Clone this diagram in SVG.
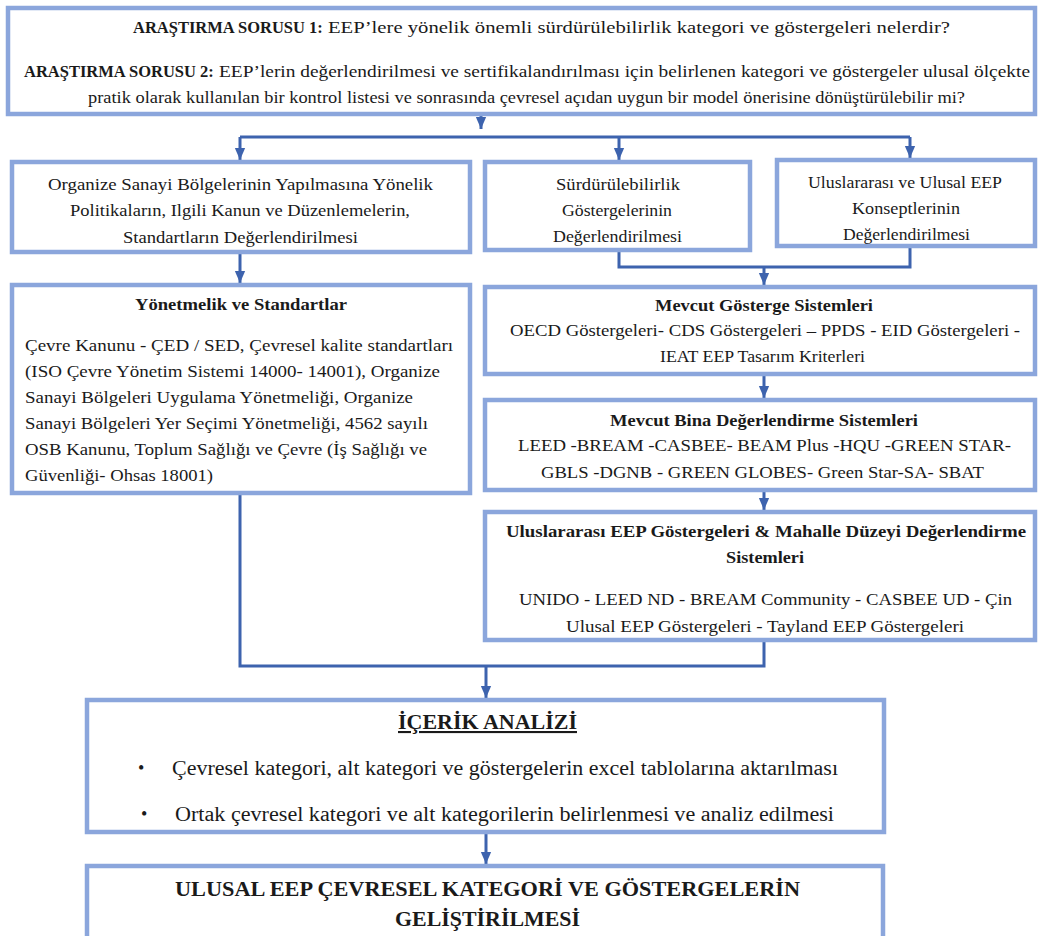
<svg xmlns="http://www.w3.org/2000/svg" width="1040" height="936" viewBox="0 0 1040 936" font-family="'Liberation Serif', 'Times New Roman', serif">
<defs>
<style>
.box{fill:#fff;stroke:#8ba6dc;stroke-width:4.5}
.t{font-family:"Liberation Serif","Times New Roman",serif;font-size:17.5px;fill:#1a1a1a}
.b{font-weight:bold}
.q{font-family:"Liberation Serif","Times New Roman",serif;font-size:16.5px;font-weight:bold;fill:#1a1a1a}
.con{fill:none;stroke:#3d63ae;stroke-width:3}
.cond{font-family:"Liberation Serif","Times New Roman",serif;fill:#1a1a1a}
</style>
<marker id="arr" markerUnits="userSpaceOnUse" markerWidth="12" markerHeight="14" refX="14" refY="6" orient="auto" viewBox="0 0 14 12">
<path d="M0,0 L14,6 L0,12 Z" fill="#3d63ae"/>
</marker>
</defs>
<rect width="1040" height="936" fill="#fff"/>

<g id="connectors">
<path class="con" d="M481,114 V129" marker-end="url(#arr)"/>
<path class="con" d="M240,137 H910"/>
<path class="con" d="M240,137 V160" marker-end="url(#arr)"/>
<path class="con" d="M619,137 V160" marker-end="url(#arr)"/>
<path class="con" d="M910,137 V158" marker-end="url(#arr)"/>
<path class="con" d="M619,250 V267 H910 V246"/>
<path class="con" d="M764,267 V285" marker-end="url(#arr)"/>
<path class="con" d="M240,252 V283" marker-end="url(#arr)"/>
<path class="con" d="M764,374 V398" marker-end="url(#arr)"/>
<path class="con" d="M764,490 V510" marker-end="url(#arr)"/>
<path class="con" d="M240,493 V666 H764 V640"/>
<path class="con" d="M486,666 V698" marker-end="url(#arr)"/>
<path class="con" d="M486,832 V864" marker-end="url(#arr)"/>
</g>

<g id="research-questions">
<rect class="box" x="8" y="8" width="1027" height="106"/>
<text class="q" x="133" y="33">ARAŞTIRMA SORUSU 1:</text>
<text class="t" x="328" y="33" textLength="622" lengthAdjust="spacingAndGlyphs">EEP’lere yönelik önemli sürdürülebilirlik kategori ve göstergeleri nelerdir?</text>
<text class="q" x="24" y="77">ARAŞTIRMA SORUSU 2:</text>
<text class="t" x="219" y="77" textLength="811" lengthAdjust="spacingAndGlyphs">EEP’lerin değerlendirilmesi ve sertifikalandırılması için belirlenen kategori ve göstergeler ulusal ölçekte</text>
<text class="t" x="88" y="103" textLength="877" lengthAdjust="spacingAndGlyphs">pratik olarak kullanılan bir kontrol listesi ve sonrasında çevresel açıdan uygun bir model önerisine dönüştürülebilir mi?</text>
</g>

<g id="osb-policies">
<rect class="box" x="12" y="162" width="458" height="90"/>
<text class="t" x="48" y="190" textLength="385" lengthAdjust="spacingAndGlyphs">Organize Sanayi Bölgelerinin Yapılmasına Yönelik</text>
<text class="t" x="70" y="216" textLength="340" lengthAdjust="spacingAndGlyphs">Politikaların, Ilgili Kanun ve Düzenlemelerin,</text>
<text class="t" x="123" y="243" textLength="235" lengthAdjust="spacingAndGlyphs">Standartların Değerlendirilmesi</text>
</g>

<g id="sustainability-indicators">
<rect class="box" x="485" y="162" width="265" height="88"/>
<text class="t" x="556" y="190" textLength="124" lengthAdjust="spacingAndGlyphs">Sürdürülebilirlik</text>
<text class="t" x="562" y="216" textLength="110" lengthAdjust="spacingAndGlyphs">Göstergelerinin</text>
<text class="t" x="553" y="242" textLength="129" lengthAdjust="spacingAndGlyphs">Değerlendirilmesi</text>
</g>

<g id="eep-concepts">
<rect class="box" x="777" y="160" width="258" height="86"/>
<text class="t" x="808" y="188" textLength="194" lengthAdjust="spacingAndGlyphs">Uluslararası ve Ulusal EEP</text>
<text class="t" x="852" y="214" textLength="108" lengthAdjust="spacingAndGlyphs">Konseptlerinin</text>
<text class="t" x="843" y="240" textLength="127" lengthAdjust="spacingAndGlyphs">Değerlendirilmesi</text>
</g>

<g id="regulations">
<rect class="box" x="12" y="285" width="458" height="208"/>
<text class="t b" x="135" y="310" textLength="212" lengthAdjust="spacingAndGlyphs">Yönetmelik ve Standartlar</text>
<text class="t" x="25" y="351" textLength="428" lengthAdjust="spacingAndGlyphs">Çevre Kanunu - ÇED / SED,  Çevresel kalite standartları</text>
<text class="t" x="25" y="377" textLength="415" lengthAdjust="spacingAndGlyphs">(ISO Çevre Yönetim Sistemi 14000- 14001),  Organize</text>
<text class="t" x="25" y="403" textLength="388" lengthAdjust="spacingAndGlyphs">Sanayi Bölgeleri  Uygulama Yönetmeliği, Organize</text>
<text class="t" x="25" y="429" textLength="403" lengthAdjust="spacingAndGlyphs">Sanayi Bölgeleri Yer Seçimi Yönetmeliği, 4562 sayılı</text>
<text class="t" x="25" y="455" textLength="402" lengthAdjust="spacingAndGlyphs">OSB Kanunu, Toplum Sağlığı ve Çevre (İş Sağlığı ve</text>
<text class="t" x="25" y="481" textLength="188" lengthAdjust="spacingAndGlyphs">Güvenliği- Ohsas 18001)</text>
</g>

<g id="indicator-systems">
<rect class="box" x="485" y="287" width="550" height="87"/>
<text class="t b" x="655" y="311" textLength="218" lengthAdjust="spacingAndGlyphs">Mevcut Gösterge Sistemleri</text>
<text class="t" x="510" y="336" textLength="510" lengthAdjust="spacingAndGlyphs">OECD Göstergeleri- CDS Göstergeleri – PPDS - EID Göstergeleri -</text>
<text class="t" x="660" y="362" textLength="205" lengthAdjust="spacingAndGlyphs">IEAT EEP Tasarım Kriterleri</text>
</g>

<g id="building-systems">
<rect class="box" x="485" y="400" width="550" height="90"/>
<text class="t b" x="610" y="426" textLength="308" lengthAdjust="spacingAndGlyphs">Mevcut  Bina Değerlendirme  Sistemleri</text>
<text class="t" x="518" y="451" textLength="493" lengthAdjust="spacingAndGlyphs">LEED -BREAM -CASBEE- BEAM Plus -HQU -GREEN STAR-</text>
<text class="t" x="541" y="478" textLength="443" lengthAdjust="spacingAndGlyphs">GBLS -DGNB - GREEN GLOBES- Green Star-SA- SBAT</text>
</g>

<g id="neighbourhood-systems">
<rect class="box" x="485" y="512" width="550" height="128"/>
<text class="t b" x="506" y="537" textLength="520" lengthAdjust="spacingAndGlyphs">Uluslararası  EEP Göstergeleri &amp; Mahalle Düzeyi Değerlendirme</text>
<text class="t b" x="726" y="563" textLength="78" lengthAdjust="spacingAndGlyphs">Sistemleri</text>
<text class="t" x="519" y="605" textLength="493" lengthAdjust="spacingAndGlyphs">UNIDO - LEED ND - BREAM Community - CASBEE UD - Çin</text>
<text class="t" x="566" y="632" textLength="398" lengthAdjust="spacingAndGlyphs">Ulusal EEP Göstergeleri  - Tayland  EEP Göstergeleri</text>
</g>

<g id="content-analysis">
<rect class="box" x="87" y="700" width="797" height="132"/>
<text class="cond b" x="398" y="729" font-size="21" textLength="179" lengthAdjust="spacingAndGlyphs" text-decoration="underline">İÇERİK ANALİZİ</text>
<text class="cond" x="138" y="774" font-size="18">•</text>
<text class="cond" x="172" y="775" font-size="20" textLength="666" lengthAdjust="spacingAndGlyphs">Çevresel kategori, alt kategori ve göstergelerin excel tablolarına aktarılması</text>
<text class="cond" x="141" y="820" font-size="18">•</text>
<text class="cond" x="175" y="821" font-size="20" textLength="659" lengthAdjust="spacingAndGlyphs">Ortak çevresel kategori ve alt kategorilerin  belirlenmesi ve analiz edilmesi</text>
</g>

<g id="national-categories">
<rect class="box" x="87" y="866" width="796" height="90"/>
<text class="cond b" x="175" y="896" font-size="22" textLength="625" lengthAdjust="spacingAndGlyphs">ULUSAL EEP ÇEVRESEL  KATEGORİ VE GÖSTERGELERİN</text>
<text class="cond b" x="395" y="926" font-size="22" textLength="185" lengthAdjust="spacingAndGlyphs">GELİŞTİRİLMESİ</text>
</g>
</svg>
